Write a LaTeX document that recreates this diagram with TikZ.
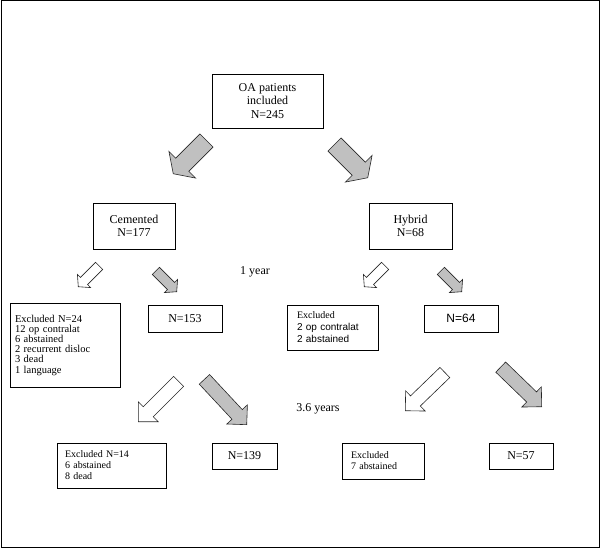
\documentclass[tikz,border=0pt]{standalone}
\usepackage{fontspec}
\setmainfont{Liberation Serif}
\newfontfamily\arialfont{Liberation Sans}
\usepackage{tikz}
\usetikzlibrary{shapes.arrows}
\definecolor{grigio}{RGB}{192,192,192}
\tikzset{
main node/.style={draw,line width=0.8pt,align=center,inner sep=0pt,font=\fontsize{12}{13.3}\selectfont},
nota node/.style={draw,line width=0.8pt,align=left,inner ysep=0pt,font=\fontsize{10}{11}\selectfont},
freccia/.style={draw=black!85,line width=0.6pt,single arrow,inner xsep=0pt,anchor=tip},
grande/.style={freccia,minimum height=47pt,inner ysep=9pt,single arrow head extend=9.5pt,single arrow tip angle=112},
media/.style={freccia,inner ysep=6.75pt,single arrow head extend=7pt,single arrow tip angle=90},
piccola/.style={freccia,minimum height=29.5pt,inner ysep=4.75pt,single arrow head extend=4.25pt,single arrow tip angle=98}}

\begin{document}
\begin{tikzpicture}[x=1pt,y=-1pt]

\useasboundingbox (0,0) rectangle (600,548);
\draw[line width=1pt] (1,1) rectangle (599,547);

\node[main node,minimum width=111pt,minimum height=54pt] (oa) at (267.5,101) {OA patients\\included\\N=245};
\node[main node,minimum width=82pt,minimum height=46pt] (cem) at (134,226) {Cemented\\N=177};
\node[main node,minimum width=83pt,minimum height=46pt] (hyb) at (410.5,226) {Hybrid\\N=68};

\node[nota node,text width=100pt,inner xsep=5pt,minimum height=84pt,font=\fontsize{10.5}{10.2}\selectfont] (exc1) at (65,345)
  {Excluded N=24\\12 op contralat\\6 abstained\\2 recurrent disloc\\3 dead\\1 language};
\node[main node,minimum width=74pt,minimum height=27pt] (n153) at (185,318.5) {N=153};
\node[nota node,text width=71pt,inner xsep=10pt,minimum height=45pt,font=\fontsize{10}{12}\selectfont] (exc2) at (332.5,327.5)
  {Excluded\\\arialfont 2 op contralat\\\arialfont 2 abstained};
\node[main node,minimum width=74pt,minimum height=27pt,font=\arialfont\fontsize{12}{13}\selectfont] (n64) at (461,318.5) {N=64};

\node[nota node,text width=93pt,inner xsep=8pt,minimum height=45pt] (exc3) at (111.5,465.5) {Excluded N=14\\6 abstained\\8 dead};
\node[main node,minimum width=65pt,minimum height=26pt] (n139) at (244.5,456) {N=139};
\node[nota node,text width=64pt,inner xsep=9pt,minimum height=36pt] (exc4) at (383,461) {Excluded\\7 abstained};
\node[main node,minimum width=64pt,minimum height=26pt] (n57) at (521,456) {N=57};

\node[font=\fontsize{12}{13}\selectfont] (anno1) at (255,272) {1 year};
\node[font=\fontsize{12}{13}\selectfont] (anno2) at (318,409) {3.6 years};

% frecce
\node[grande,fill=grigio,rotate=-135] (a1) at (173,174) {};
\node[grande,fill=grigio,rotate=-45] (a2) at (368,178) {};

\node[piccola,fill=white,rotate=-135] (b1) at (78,287) {};
\node[piccola,fill=grigio,rotate=-45] (b2) at (177,292) {};
\node[piccola,fill=white,rotate=-135] (b3) at (364,287) {};
\node[piccola,fill=grigio,rotate=-45] (b4) at (462,292) {};

\node[media,fill=white,rotate=-135,minimum height=57pt] (c1) at (138,422) {};
\node[media,fill=grigio,rotate=-47,minimum height=62pt] (c2) at (247,425) {};
\node[media,fill=white,rotate=-136,minimum height=55pt] (c3) at (405,411) {};
\node[media,fill=grigio,rotate=-44,minimum height=57pt] (c4) at (542,407) {};

\end{tikzpicture}
\end{document}
